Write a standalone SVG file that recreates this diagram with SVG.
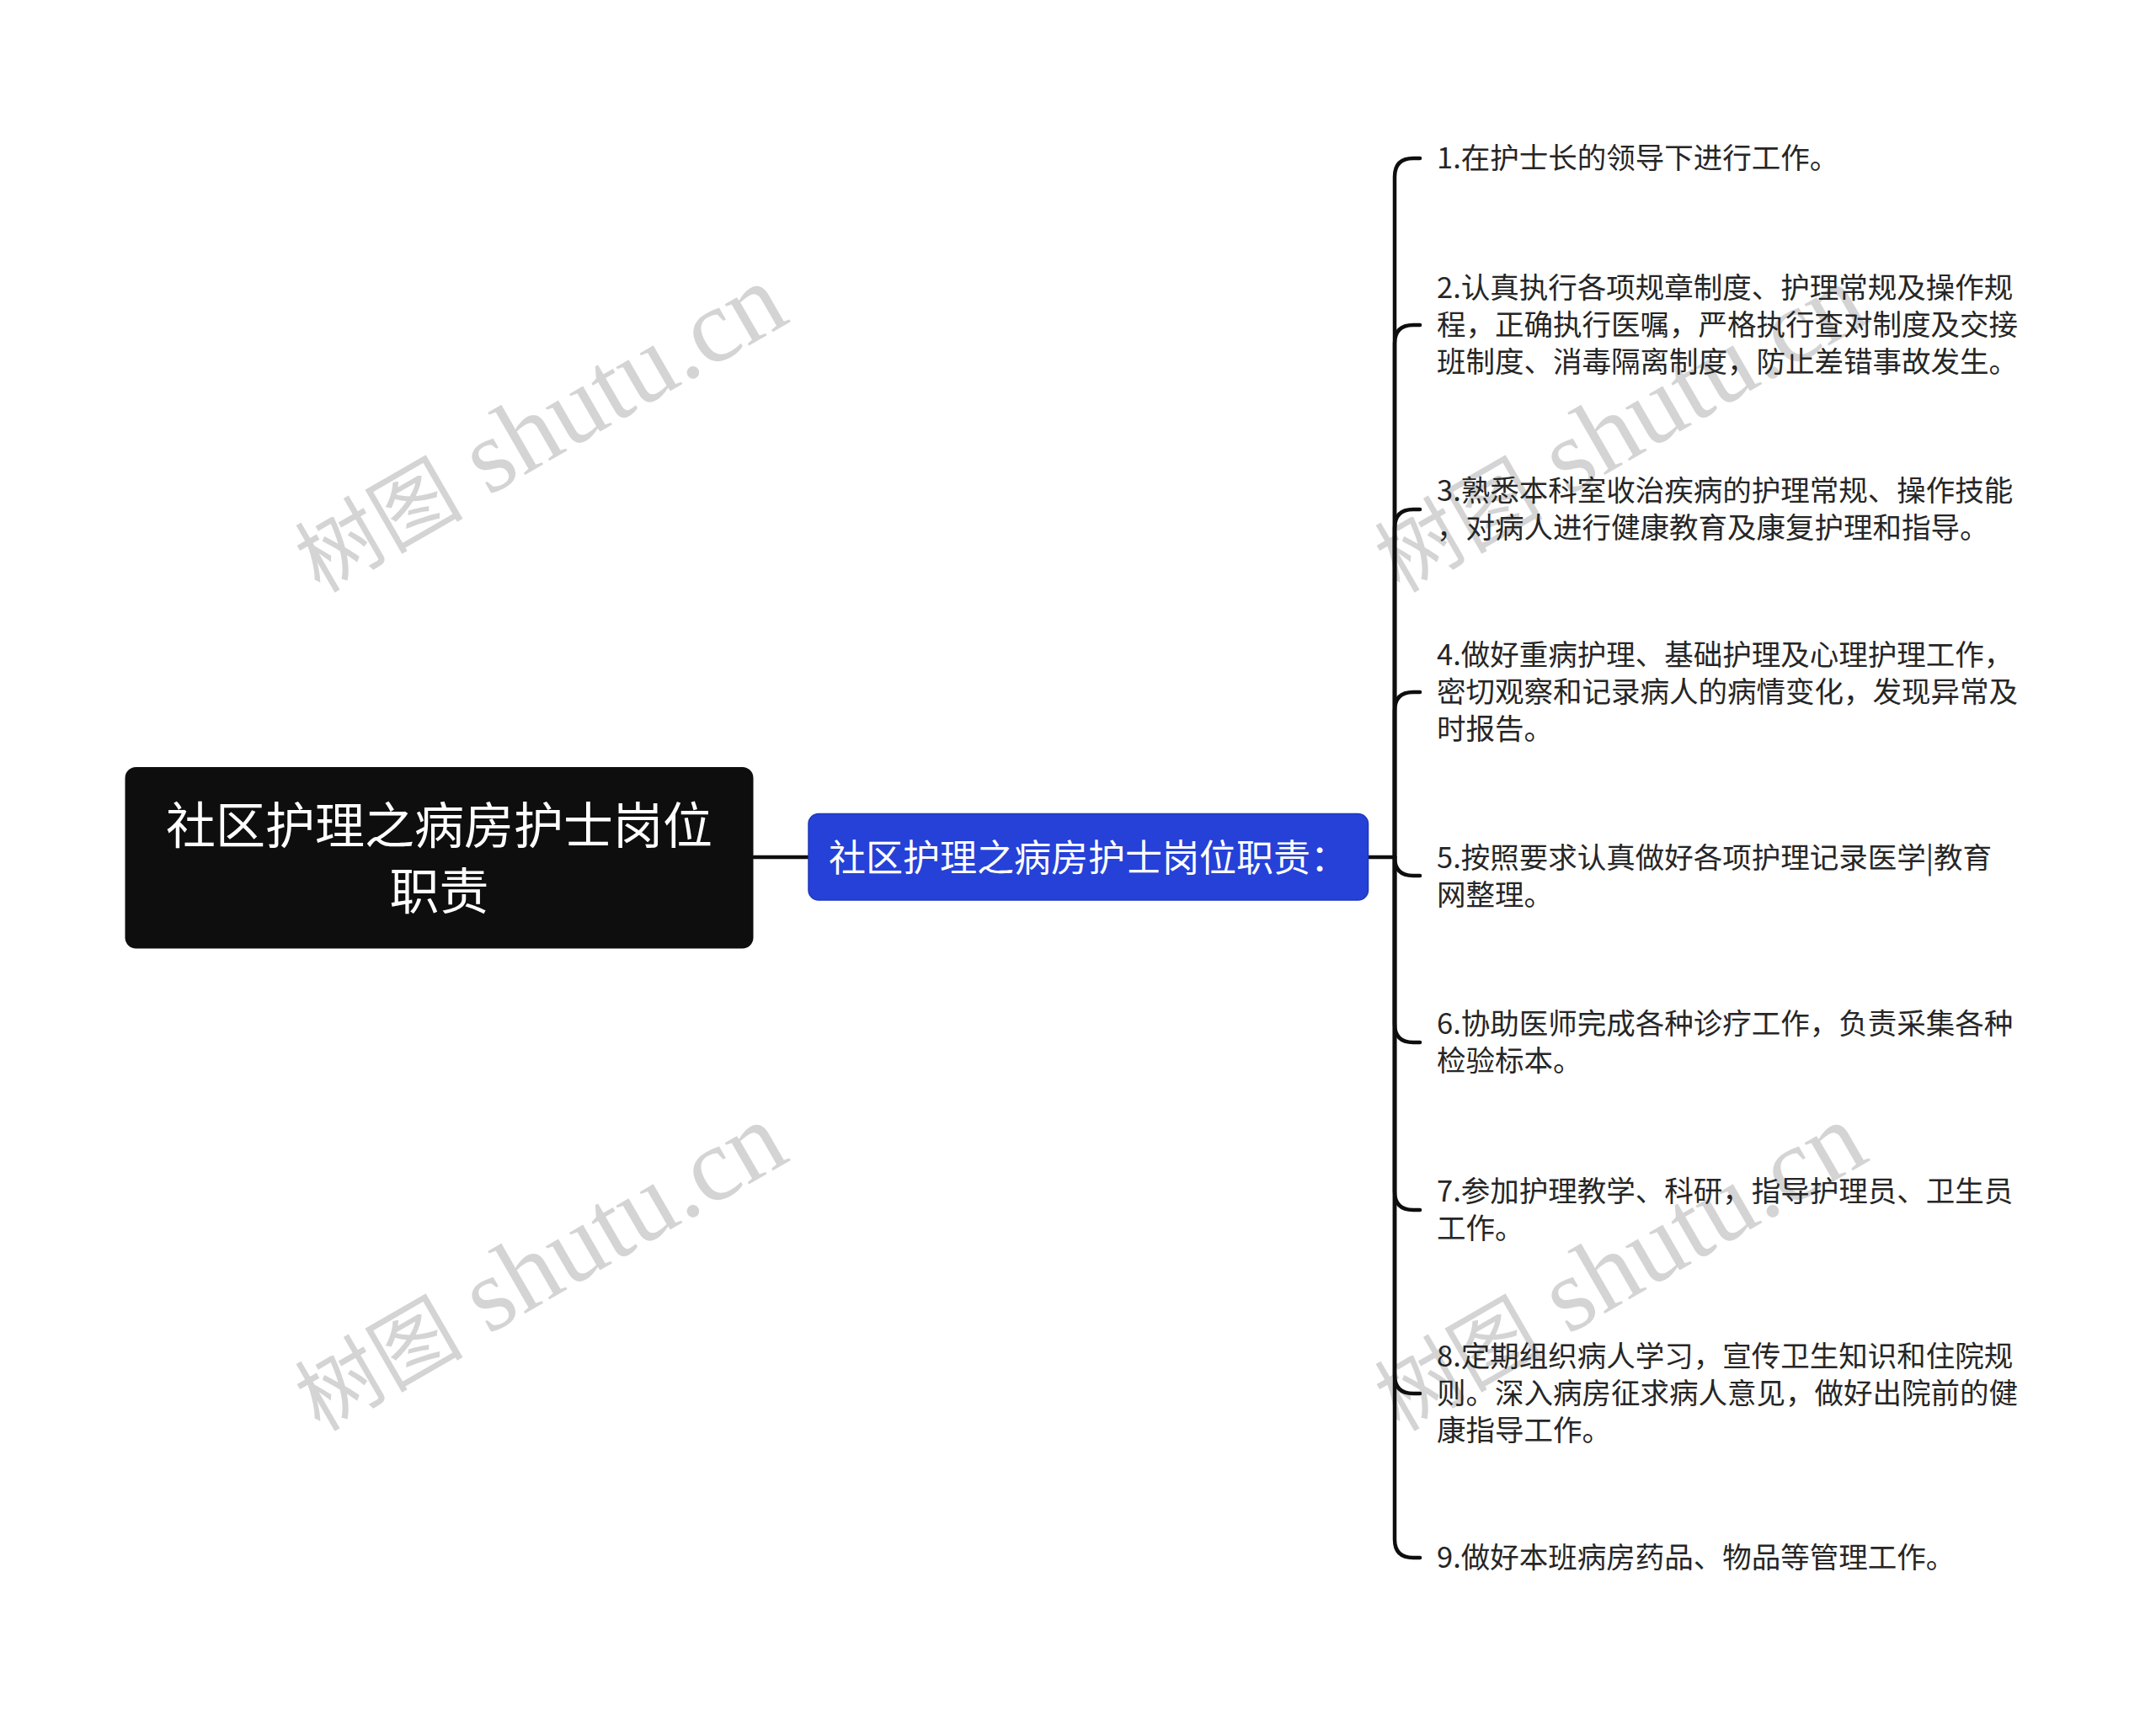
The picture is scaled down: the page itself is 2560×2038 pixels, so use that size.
<svg xmlns="http://www.w3.org/2000/svg" width="2560" height="2038" viewBox="0 0 2560 2038">
<style>
.wm{font-family:"Liberation Serif","Noto Sans CJK SC",serif;font-size:124px;fill:#d4d4d4}
.wmc{font-size:100px}
.root{font-family:"Noto Sans CJK SC","Noto Sans",sans-serif;font-size:59px;fill:#ffffff}
.sub{font-family:"Noto Sans CJK SC","Noto Sans",sans-serif;font-size:44px;fill:#ffffff}
.leaf{font-family:"Noto Sans CJK SC","Noto Sans",sans-serif;font-size:34.5px;fill:#262626}
.conn{fill:none;stroke:#0e0e0e;stroke-width:4.5;stroke-linecap:round}
</style>
<rect width="2560" height="2038" fill="#ffffff"/>
<g id="watermarks">
<text class="wm" x="660" y="543" text-anchor="middle" transform="rotate(-30 660 543)"><tspan class="wmc">树图</tspan> shutu.cn</text>
<text class="wm" x="1942" y="543" text-anchor="middle" transform="rotate(-30 1942 543)"><tspan class="wmc">树图</tspan> shutu.cn</text>
<text class="wm" x="660" y="1539" text-anchor="middle" transform="rotate(-30 660 1539)"><tspan class="wmc">树图</tspan> shutu.cn</text>
<text class="wm" x="1942" y="1539" text-anchor="middle" transform="rotate(-30 1942 1539)"><tspan class="wmc">树图</tspan> shutu.cn</text>
</g>
<g id="connectors">
<path class="conn" d="M895 1018 L960 1018"/>
<path class="conn" d="M1624 1018 L1656 1018"/>
<path class="conn" d="M1656 1018 L1656 210 Q1656 188 1678 188 L1686 188"/>
<path class="conn" d="M1656 1018 L1656 408 Q1656 386 1678 386 L1686 386"/>
<path class="conn" d="M1656 1018 L1656 627 Q1656 605 1678 605 L1686 605"/>
<path class="conn" d="M1656 1018 L1656 844 Q1656 822 1678 822 L1686 822"/>
<path class="conn" d="M1656 1018 Q1656 1040 1678 1040 L1686 1040"/>
<path class="conn" d="M1656 1018 L1656 1216 Q1656 1238 1678 1238 L1686 1238"/>
<path class="conn" d="M1656 1018 L1656 1415 Q1656 1437 1678 1437 L1686 1437"/>
<path class="conn" d="M1656 1018 L1656 1633 Q1656 1655 1678 1655 L1686 1655"/>
<path class="conn" d="M1656 1018 L1656 1828 Q1656 1850 1678 1850 L1686 1850"/>
</g>
<g id="root">
<rect x="148.5" y="911" width="746" height="215.5" rx="13" fill="#0e0e0e"/>
<text class="root" x="521.5" y="976" text-anchor="middle" dominant-baseline="central">社区护理之病房护士岗位</text>
<text class="root" x="521.5" y="1054" text-anchor="middle" dominant-baseline="central">职责</text>
</g>
<g id="sub">
<rect x="960" y="966.5" width="664.5" height="102.5" rx="12" fill="#2541d8" stroke="#1f37bd" stroke-width="1.5"/>
<text class="sub" x="1292" y="1016" text-anchor="middle" dominant-baseline="central">社区护理之病房护士岗位职责：</text>
</g>
<g id="item1"><text class="leaf" x="1706" y="185" dominant-baseline="central">1.在护士长的领导下进行工作。</text></g>
<g id="item2"><text class="leaf" dominant-baseline="central"><tspan x="1706" y="339">2.认真执行各项规章制度、护理常规及操作规</tspan><tspan x="1706" y="383">程，正确执行医嘱，严格执行查对制度及交接</tspan><tspan x="1706" y="427">班制度、消毒隔离制度，防止差错事故发生。</tspan></text></g>
<g id="item3"><text class="leaf" dominant-baseline="central"><tspan x="1706" y="580">3.熟悉本科室收治疾病的护理常规、操作技能</tspan><tspan x="1706" y="624">，对病人进行健康教育及康复护理和指导。</tspan></text></g>
<g id="item4"><text class="leaf" dominant-baseline="central"><tspan x="1706" y="775">4.做好重病护理、基础护理及心理护理工作，</tspan><tspan x="1706" y="819">密切观察和记录病人的病情变化，发现异常及</tspan><tspan x="1706" y="863">时报告。</tspan></text></g>
<g id="item5"><text class="leaf" dominant-baseline="central"><tspan x="1706" y="1016">5.按照要求认真做好各项护理记录医学|教育</tspan><tspan x="1706" y="1060">网整理。</tspan></text></g>
<g id="item6"><text class="leaf" dominant-baseline="central"><tspan x="1706" y="1213">6.协助医师完成各种诊疗工作，负责采集各种</tspan><tspan x="1706" y="1257">检验标本。</tspan></text></g>
<g id="item7"><text class="leaf" dominant-baseline="central"><tspan x="1706" y="1412">7.参加护理教学、科研，指导护理员、卫生员</tspan><tspan x="1706" y="1456">工作。</tspan></text></g>
<g id="item8"><text class="leaf" dominant-baseline="central"><tspan x="1706" y="1608">8.定期组织病人学习，宣传卫生知识和住院规</tspan><tspan x="1706" y="1652">则。深入病房征求病人意见，做好出院前的健</tspan><tspan x="1706" y="1696">康指导工作。</tspan></text></g>
<g id="item9"><text class="leaf" x="1706" y="1847" dominant-baseline="central">9.做好本班病房药品、物品等管理工作。</text></g>
</svg>
